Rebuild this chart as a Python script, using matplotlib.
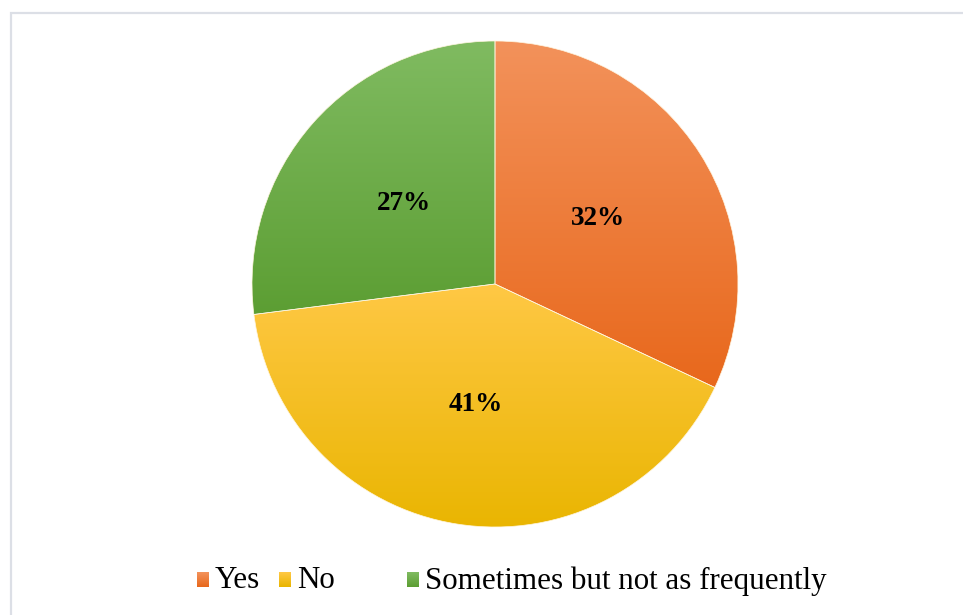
import numpy as np
import matplotlib
matplotlib.use('Agg')
import matplotlib.pyplot as plt
from matplotlib.colors import LinearSegmentedColormap
from matplotlib.patches import Rectangle

labels = ['Yes', 'No', 'Sometimes but not as frequently']
shares = [32, 41, 27]
# top / bottom colour of each slice's vertical gradient
tops = ['#f3925b', '#ffc845', '#80bb61']
bottoms = ['#e8681c', '#e9b500', '#5c9e33']

W, H = 963, 615
fig = plt.figure(figsize=(W / 100, H / 100), dpi=100)
ax = fig.add_axes([0, 0, 1, 1])

# light chart-area border
fig.patches.append(Rectangle((10.5 / W, -0.05), 1.2, (H - 12.5) / H + 0.05,
                             transform=fig.transFigure, fill=False,
                             edgecolor='#dcdfe6', linewidth=1.6))

center = (495, H - 284)
radius = 243
wedges, texts, autotexts = ax.pie(
    shares, startangle=90, counterclock=False, center=center, radius=radius,
    autopct='%1.0f%%', pctdistance=0.5, frame=True,
    wedgeprops=dict(linewidth=0.5, edgecolor='#fff6e0'),
    textprops=dict(family='Liberation Serif', fontsize=19.5, fontweight='bold',
                   color='black'))
ax.set_xlim(0, W)
ax.set_ylim(0, H)
ax.set_aspect('equal')
ax.axis('off')

# fill each slice with a top-to-bottom gradient clipped to the wedge
for w, c0, c1 in zip(wedges, tops, bottoms):
    w.set_facecolor('none')
    verts = w.get_path().vertices
    x0, x1 = verts[:, 0].min(), verts[:, 0].max()
    y0, y1 = verts[:, 1].min(), verts[:, 1].max()
    cmap = LinearSegmentedColormap.from_list('g', [c1, c0])
    grad = np.linspace(0, 1, 256).reshape(-1, 1)
    im = ax.imshow(grad, cmap=cmap, origin='lower', aspect='auto',
                   extent=(x0, x1, y0, y1), zorder=0.5)
    im.set_clip_path(w)
for t in texts + autotexts:
    t.set_zorder(3)

# legend row: gradient swatch + label, left edges in pixels
legend_x = [197, 279, 407]
legend_y = H - 580
sw, sh = 12, 15
for lx, lab, c0, c1 in zip(legend_x, labels, tops, bottoms):
    cmap = LinearSegmentedColormap.from_list('s', [c1, c0])
    ax.imshow(np.linspace(0, 1, 32).reshape(-1, 1), cmap=cmap, origin='lower',
              aspect='auto', extent=(lx, lx + sw, legend_y - sh / 2,
                                     legend_y + sh / 2), zorder=2)
    ax.text(lx + sw + 6, legend_y - 1, lab, family='Liberation Serif',
            fontsize=22.3, va='center', ha='left', color='black')
ax.set_xlim(0, W)
ax.set_ylim(0, H)

fig.savefig('out.png', dpi=100)
